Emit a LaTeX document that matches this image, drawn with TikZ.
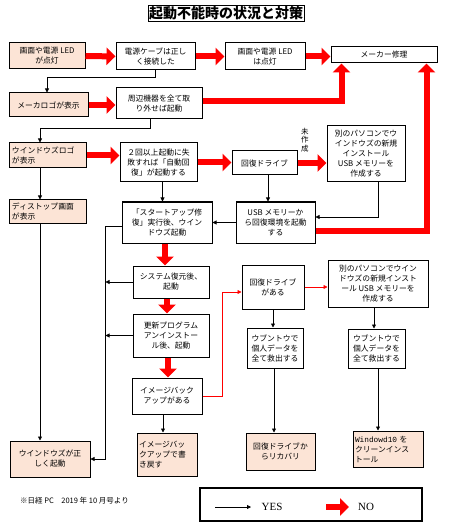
\documentclass[tikz,border=0pt]{standalone}
\usepackage{fontspec}
\setmainfont{Noto Sans CJK JP}
\newfontfamily\timesen{Liberation Serif}
\newfontfamily\monoen{Liberation Mono}
\usetikzlibrary{arrows.meta}

\begin{document}
\begin{tikzpicture}[x=1pt, y=-1pt,
  sz/.style 2 args={minimum width=#1pt, minimum height=#2pt},
  box/.style={draw, line width=1pt, inner sep=1pt, align=center, font=\fontsize{7.8}{10}\selectfont},
  pbox/.style={box, fill={rgb,255:red,252;green,228;blue,214}},
  yesline/.style={draw, line width=0.8pt, -{Triangle[length=4pt,width=4pt]}},
  noline/.style={draw=red, line width=6pt, -{Triangle[length=9pt,width=17pt]}},
  nothin/.style={draw=red, line width=0.8pt, -{Triangle[length=4pt,width=4pt]}}]
  \useasboundingbox (0, 0) rectangle (450, 529);

  \node (T) [draw, inner sep=1pt, font=\fontsize{14}{16}\selectfont\bfseries] at (226, 13.5) {起動不能時の状況と対策};

  \node (A1) [pbox, sz={76}{26}] at (47, 56) {画面や電源 LED\\が点灯};
  \node (A2) [box, sz={79}{27}] at (155.5, 56.5) {電源ケーブは正し\\く接続した};
  \node (A3) [box, sz={80}{27}] at (265, 56.5) {画面や電源 LED\\は点灯};
  \node (A4) [box, sz={106}{16}] at (384, 55) {メーカー修理};
  \node (A5) [pbox, sz={79}{24}] at (48.5, 105) {メーカロゴが表示};
  \node (A6) [box, sz={86}{31}] at (159, 103.5) {周辺機器を全て取\\り外せば起動};
  \node (A7) [pbox, sz={77}{25}, align=left, text width=71pt] at (47.5, 155.5) {ウインドウズロゴ\\が表示};
  \node (A8) [box, sz={77}{39}] at (158.5, 162.5) {２回以上起動に失\\敗すれば「自動回\\復」が起動する};
  \node (A9) [box, sz={65}{24}] at (264.5, 163) {回復ドライブ};
  \node (A10) [box, sz={78}{56}] at (366, 154) {別のパソコンでウ\\インドウズの新規\\インストール\\USB メモリーを\\作成する};
  \node (A11) [box, sz={79}{41}] at (275.5, 222.5) {USB メモリーか\\ら回復環境を起動\\する};
  \node (A12) [pbox, sz={77}{23}, align=left, text width=71pt] at (47.5, 211.5) {ディストップ画面\\が表示};
  \node (A13) [box, sz={90}{41}] at (167, 222.5) {「スタートアップ修\\復」実行後、ウイン\\ドウズ起動};
  \node (A14) [box, sz={76}{32}] at (171, 282) {システム復元後、\\起動};
  \node (A15) [box, sz={76}{43}] at (171, 335.5) {更新プログラム\\アンインストー\\ル後、起動};
  \node (A17) [box, sz={70}{36}] at (167, 396) {イメージバック\\アップがある};
  \node (A18) [pbox, sz={60}{43}, align=left, text width=56pt] at (167, 454.5) {イメージバッ\\クアップで書\\き戻す};
  \node (A16) [pbox, sz={80}{36}] at (50, 459) {ウインドウズが正\\しく起動};

  \node (B1) [box, sz={62}{44}] at (273, 287) {回復ドライブ\\がある};
  \node (B2) [box, sz={100}{47}] at (378, 283.5) {別のパソコンでウイン\\ドウズの新規インスト\\ール USB メモリーを\\作成する};
  \node (B3) [box, sz={56}{40}] at (275, 348) {ウブントウで\\個人データを\\全て救出する};
  \node (B4) [box, sz={57}{39}] at (376.5, 348.5) {ウブントウで\\個人データを\\全て救出する};
  \node (B5) [pbox, sz={69}{37}] at (280.5, 451.5) {回復ドライブか\\らリカバリ};
  \node (B6) [pbox, sz={70}{36}, align=left, text width=66pt] at (388, 449) {{\monoen Windowd10} を\\クリーンインス\\トール};

  \node (N) [anchor=west, inner sep=0pt, font=\fontsize{7.5}{9}\selectfont] at (20, 501) {※日経 PC　2019 年 10 月号より};

  % legend
  \node (LG) [draw, line width=2pt, sz={222}{33}] at (311, 504.5) {};
  \coordinate (Y1) at (215, 507);
  \coordinate (Y2) at (251, 507);
  \coordinate (R1) at (326, 507);
  \coordinate (R2) at (349, 507);
  \node (YES) [font=\fontsize{11}{13}\selectfont\timesen] at (272, 507) {YES};
  \node (NO) [font=\fontsize{11}{13}\selectfont\timesen] at (366, 507) {NO};
  \draw [yesline] (Y1) -- (Y2);
  \draw [noline] (R1) -- (R2);

  % NO paths
  \draw [noline] (A1) -- (A2);
  \draw [noline] (A2) -- (A3);
  \draw [noline] (A3.east) -- (A4.west |- A3.east);
  \draw [noline] (A5) -- (A6.west |- A5.east);
  \draw [noline] ([yshift=2pt]A6.east) -| ([xshift=11pt]A4.south west);
  \draw [noline] ([yshift=-8pt]A11.east) -| ([xshift=-11pt]A4.south east);
  \draw [noline] (A7.east) -- (A8.west |- A7.east);
  \draw [noline] (A8.east) -- (A9.west |- A8.east);
  \draw [noline] (A9.east) -- node [pos=0.25, above=8pt, align=center, inner sep=0pt, font=\fontsize{7.5}{8.5}\selectfont] {未\\作\\成} (A10.west |- A9.east);
  \draw [noline] ([xshift=-2pt]A13.south) -- ([xshift=-2pt]A13.south |- A14.north);
  \draw [noline] ([xshift=-4pt]A14.south) -- ([xshift=-4pt]A14.south |- A15.north);
  \draw [noline] ([xshift=-3pt]A15.south) -- ([xshift=-3pt]A15.south |- A17.north);
  \draw [nothin] (A17.east) -- ++(20, 0) |- ([yshift=-5pt]B1.west);
  \draw [nothin] (B1.east) -- (B2.west |- B1.east);

  % YES paths
  \draw [yesline] (A2.south) -- ++(0, 7) -| ([xshift=-1.5pt]A5.north);
  \draw [yesline] ([xshift=-9pt]A6.south) -- ++(0, 9) -| ([xshift=-7.5pt]A7.north);
  \draw [yesline] ([xshift=-7.5pt]A7.south) -- ([xshift=-7.5pt]A12.north);
  \draw [yesline] ([xshift=-7.5pt]A12.south) -- ([xshift=-10pt]A16.north);
  \draw [yesline] ([xshift=4pt]A8.south) -- ([xshift=4pt]A8.south |- A13.north);
  \draw [yesline] ([xshift=3.5pt]A9.south) -- ([xshift=3.5pt]A9.south |- A11.north);
  \draw [yesline] ([xshift=12pt]A10.south) |- ([yshift=5.5pt]A11.east);
  \draw [yesline] (A11.west) -- (A13.east |- A11.west);
  \draw [yesline] ([yshift=-3.5pt]A13.west) -- ++(-16, 0) |- (A16.east);
  \draw [yesline] (A14.west) -- ++(-27, 0);
  \draw [yesline] (A15.west) -- ++(-27, 0);
  \draw [yesline] ([xshift=-4pt]A17.south) -- ([xshift=-4pt]A17.south |- A18.north);
  \draw [yesline] (B1.south) -- (B1.south |- B3.north);
  \draw [yesline] ([xshift=-4pt]B2.south) -- ([xshift=-4pt]B2.south |- B4.north);
  \draw [yesline] ([xshift=-1pt]B3.south) -- ([xshift=-1pt]B3.south |- B5.north);
  \draw [yesline] ([xshift=1.5pt]B4.south) -- ([xshift=1.5pt]B4.south |- B6.north);
\end{tikzpicture}
\end{document}
